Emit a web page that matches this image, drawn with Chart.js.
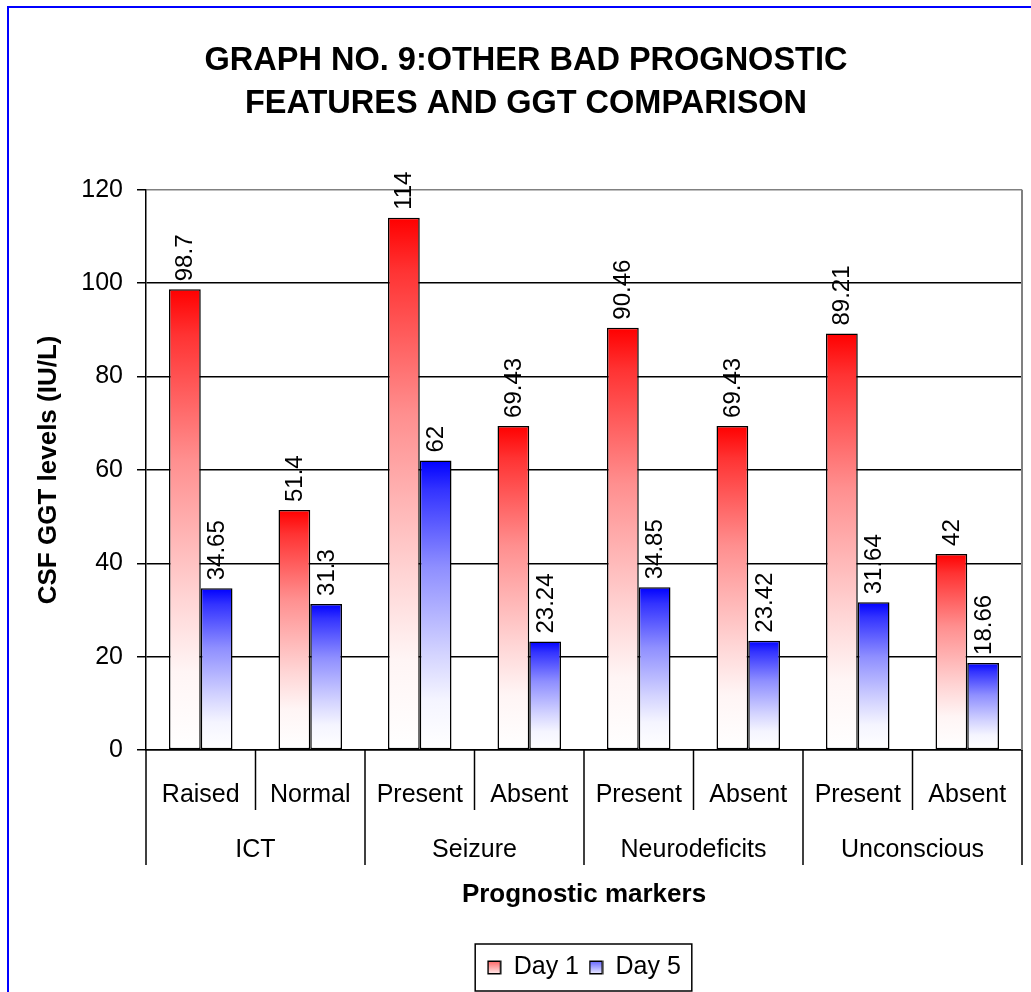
<!DOCTYPE html>
<html><head><meta charset="utf-8">
<script src="https://cdn.jsdelivr.net/npm/chart.js@4.4.1/dist/chart.umd.min.js"></script>
<style>html,body{margin:0;padding:0;background:#fff}canvas{display:block}</style>
</head><body>
<canvas id="c" width="1031" height="992"></canvas>
<script>
const categories = ['Raised','Normal','Present','Absent','Present','Absent','Present','Absent'];
const groups = ['ICT','Seizure','Neurodeficits','Unconscious'];
const groupSize = 2;
const day1 = [98.7, 51.4, 114, 69.43, 90.46, 69.43, 89.21, 42];
const day5 = [34.65, 31.3, 62, 23.24, 34.85, 23.42, 31.64, 18.66];
const seriesNames = ['Day 1', 'Day 5'];
const yMin = 0, yMax = 120, yStep = 20;
const titleLines = ['GRAPH NO. 9:OTHER BAD PROGNOSTIC', 'FEATURES AND GGT COMPARISON'];
const yTitle = 'CSF GGT levels (IU/L)';
const xTitle = 'Prognostic markers';

const FONT = '"Liberation Sans", Arial, Helvetica, sans-serif';
Chart.defaults.color = '#000';
Chart.defaults.font.family = FONT;

const fadeStops = [[0,0],[0.1,0.2],[0.37,0.56],[0.67,0.83],[0.83,0.96],[1,1]];
function mix(base, f) {
  const v = Math.round(255 * f);
  return base === 'r' ? `rgb(255,${v},${v})` : `rgb(${v},${v},255)`;
}
function barFill(base) {
  return (ctx) => {
    const chart = ctx.chart;
    const y = chart.scales && chart.scales.y;
    if (!y || !chart.chartArea || ctx.raw == null) return base === 'r' ? '#f00' : '#00f';
    const top = y.getPixelForValue(ctx.raw), bot = y.getPixelForValue(0);
    const g = chart.ctx.createLinearGradient(0, top, 0, bot);
    fadeStops.forEach(([t, f]) => g.addColorStop(t, mix(base, f)));
    return g;
  };
}
function legendIcon(base) {
  const c = document.createElement('canvas'); c.width = 15; c.height = 15;
  const x = c.getContext('2d');
  const g = x.createLinearGradient(0, 1, 0, 14);
  g.addColorStop(0, mix(base, 0.4)); g.addColorStop(1, mix(base, 0.93));
  x.fillStyle = g; x.fillRect(1, 1, 13, 13);
  x.strokeStyle = '#000'; x.lineWidth = 1.5; x.strokeRect(1.25, 1.25, 12.5, 12.5);
  return c;
}
const icons = [legendIcon('r'), legendIcon('b')];

const deco = {
  id: 'deco',
  beforeDraw(chart) {
    const c = chart.ctx;
    c.save(); c.fillStyle = '#0000FF';
    c.fillRect(7, 6, 2, 986); c.fillRect(7, 6, 1024, 2);
    c.restore();
  },
  beforeDatasetsDraw(chart) {
    const c = chart.ctx, a = chart.chartArea;
    c.save(); c.strokeStyle = '#808080'; c.lineWidth = 2;
    c.beginPath(); c.moveTo(a.right, a.top); c.lineTo(a.right, a.bottom); c.stroke();
    c.restore();
  },
  afterDatasetsDraw(chart) {
    const c = chart.ctx;
    c.save();
    c.fillStyle = '#000'; c.font = '24px ' + FONT;
    c.textAlign = 'left'; c.textBaseline = 'middle';
    chart.data.datasets.forEach((ds, di) => {
      const meta = chart.getDatasetMeta(di);
      meta.data.forEach((el, i) => {
        c.save();
        c.translate(el.x + 1, el.y - 8);
        c.rotate(-Math.PI / 2);
        c.fillText(String(ds.data[i]), 0, 0);
        c.restore();
      });
    });
    c.restore();
  },
  afterDraw(chart) {
    const c = chart.ctx, xs = chart.scales.x, a = chart.chartArea;
    const px = i => xs.getPixelForValue(i);
    c.save();
    c.strokeStyle = '#000'; c.lineWidth = 1.5;
    const n = categories.length;
    for (let i = 0; i <= n; i++) {
      const x = i === 0 ? xs.left : i === n ? xs.right : (px(i - 1) + px(i)) / 2;
      const long = i % groupSize === 0;
      c.beginPath(); c.moveTo(x, a.bottom); c.lineTo(x, a.bottom + (long ? 115 : 60)); c.stroke();
    }
    c.fillStyle = '#000'; c.font = '25px ' + FONT; c.textAlign = 'center'; c.textBaseline = 'middle';
    categories.forEach((t, i) => c.fillText(t, px(i), a.bottom + 45));
    groups.forEach((t, g) => {
      const x = (px(g * groupSize) + px(g * groupSize + groupSize - 1)) / 2;
      c.fillText(t, x, a.bottom + 100);
    });
    const hb = chart.legend && chart.legend.legendHitBoxes;
    if (hb && hb.length) {
      const x0 = hb[0].left - 12, last = hb[hb.length - 1];
      const x1 = last.left + last.width + 11;
      const cy = hb[0].top + hb[0].height / 2;
      c.lineWidth = 1.5; c.strokeStyle = '#000';
      c.strokeRect(x0, cy - 23.5, x1 - x0, 47);
    }
    c.restore();
  }
};

new Chart(document.getElementById('c'), {
  type: 'bar',
  data: {
    labels: categories,
    datasets: [
      { label: seriesNames[0], data: day1, backgroundColor: barFill('r'), borderColor: '#000', borderWidth: 1.5, borderSkipped: false },
      { label: seriesNames[1], data: day5, backgroundColor: barFill('b'), borderColor: '#000', borderWidth: 1.5, borderSkipped: false }
    ]
  },
  options: {
    responsive: false, animation: false, devicePixelRatio: 1,
    layout: { padding: { left: 30, right: 9, top: 0, bottom: 2 } },
    datasets: { bar: { categoryPercentage: 0.58, barPercentage: 1.0 } },
    plugins: {
      title: { display: true, text: titleLines, font: { size: 32.5, weight: 'bold', lineHeight: 1.32 }, color: '#000', padding: { top: 40, bottom: 64 } },
      legend: {
        display: true, position: 'bottom', fullSize: false,
        labels: {
          usePointStyle: true, boxWidth: 14, padding: 10, color: '#000',
          font: { size: 25 },
          generateLabels: (chart) => chart.data.datasets.map((ds, i) => ({
            text: ds.label, pointStyle: icons[i], fillStyle: '#fff', strokeStyle: '#000',
            lineWidth: 1, hidden: false, datasetIndex: i, fontColor: '#000'
          }))
        }
      },
      tooltip: { enabled: false }
    },
    scales: {
      x: {
        grid: { display: false },
        border: { display: true, color: '#000', width: 1.5 },
        ticks: { display: false },
        title: { display: true, text: xTitle, font: { size: 26, weight: 'bold', lineHeight: 1.2 }, color: '#000', padding: { top: 0, bottom: 35 } },
        afterFit: (s) => { s.height = 195; }
      },
      y: {
        min: yMin, max: yMax,
        ticks: { stepSize: yStep, font: { size: 25 }, color: '#000', padding: 14 },
        grid: { color: (ctx) => (ctx.tick && ctx.tick.value === yMax ? '#808080' : '#000'), lineWidth: 1.5, tickLength: 9, tickColor: '#000', tickWidth: 1.5 },
        border: { display: true, color: '#000', width: 1.5 },
        title: { display: true, text: yTitle, font: { size: 26, weight: 'bold', lineHeight: 1.2 }, color: '#000', padding: { top: 3, bottom: 0 } },
        afterFit: (s) => { s.width = 116; }
      }
    }
  },
  plugins: [deco]
});
</script>
</body></html>
